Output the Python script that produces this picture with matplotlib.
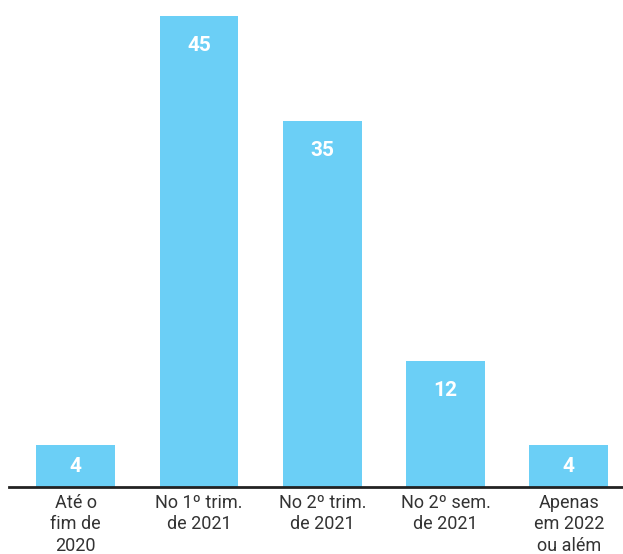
import matplotlib
matplotlib.use("Agg")
import matplotlib.pyplot as plt

categories = ["Até o\nfim de\n2020", "No 1º trim.\nde 2021", "No 2º trim.\nde 2021",
              "No 2º sem.\nde 2021", "Apenas\nem 2022\nou além"]
values = [4, 45, 35, 12, 4]

bar_color = "#6BCFF6"
text_color = "#333333"

plt.rcParams['font.family'] = ['Roboto', 'DejaVu Sans']

fig = plt.figure(figsize=(6.23, 5.54), dpi=100)
ax = fig.add_axes([9/623, 67/554, 1 - 9/623, 487/554])

x = list(range(len(values)))
ax.bar(x, values, width=0.64, color=bar_color, zorder=2)
ax.set_xlim(-0.541, 4.439)
ax.set_ylim(0, 46.53)

ymax = 46.53
px_per_val = 487 / ymax
for xi, v in zip(x, values):
    off = 29.5 / px_per_val
    y = v - off if v - off > v / 2 else v / 2
    ax.text(xi, y, str(v), ha='center', va='center', color='white',
            fontsize=15, fontweight='bold')

ax.set_xticks(x)
ax.set_xticklabels(categories, fontsize=13, color=text_color, linespacing=1.25)
ax.tick_params(axis='x', length=0, pad=5)
ax.set_yticks([])
for s in ['top', 'right', 'left']:
    ax.spines[s].set_visible(False)
ax.spines['bottom'].set_color('#222222')
ax.spines['bottom'].set_linewidth(2)

fig.savefig("out.png", dpi=100)
